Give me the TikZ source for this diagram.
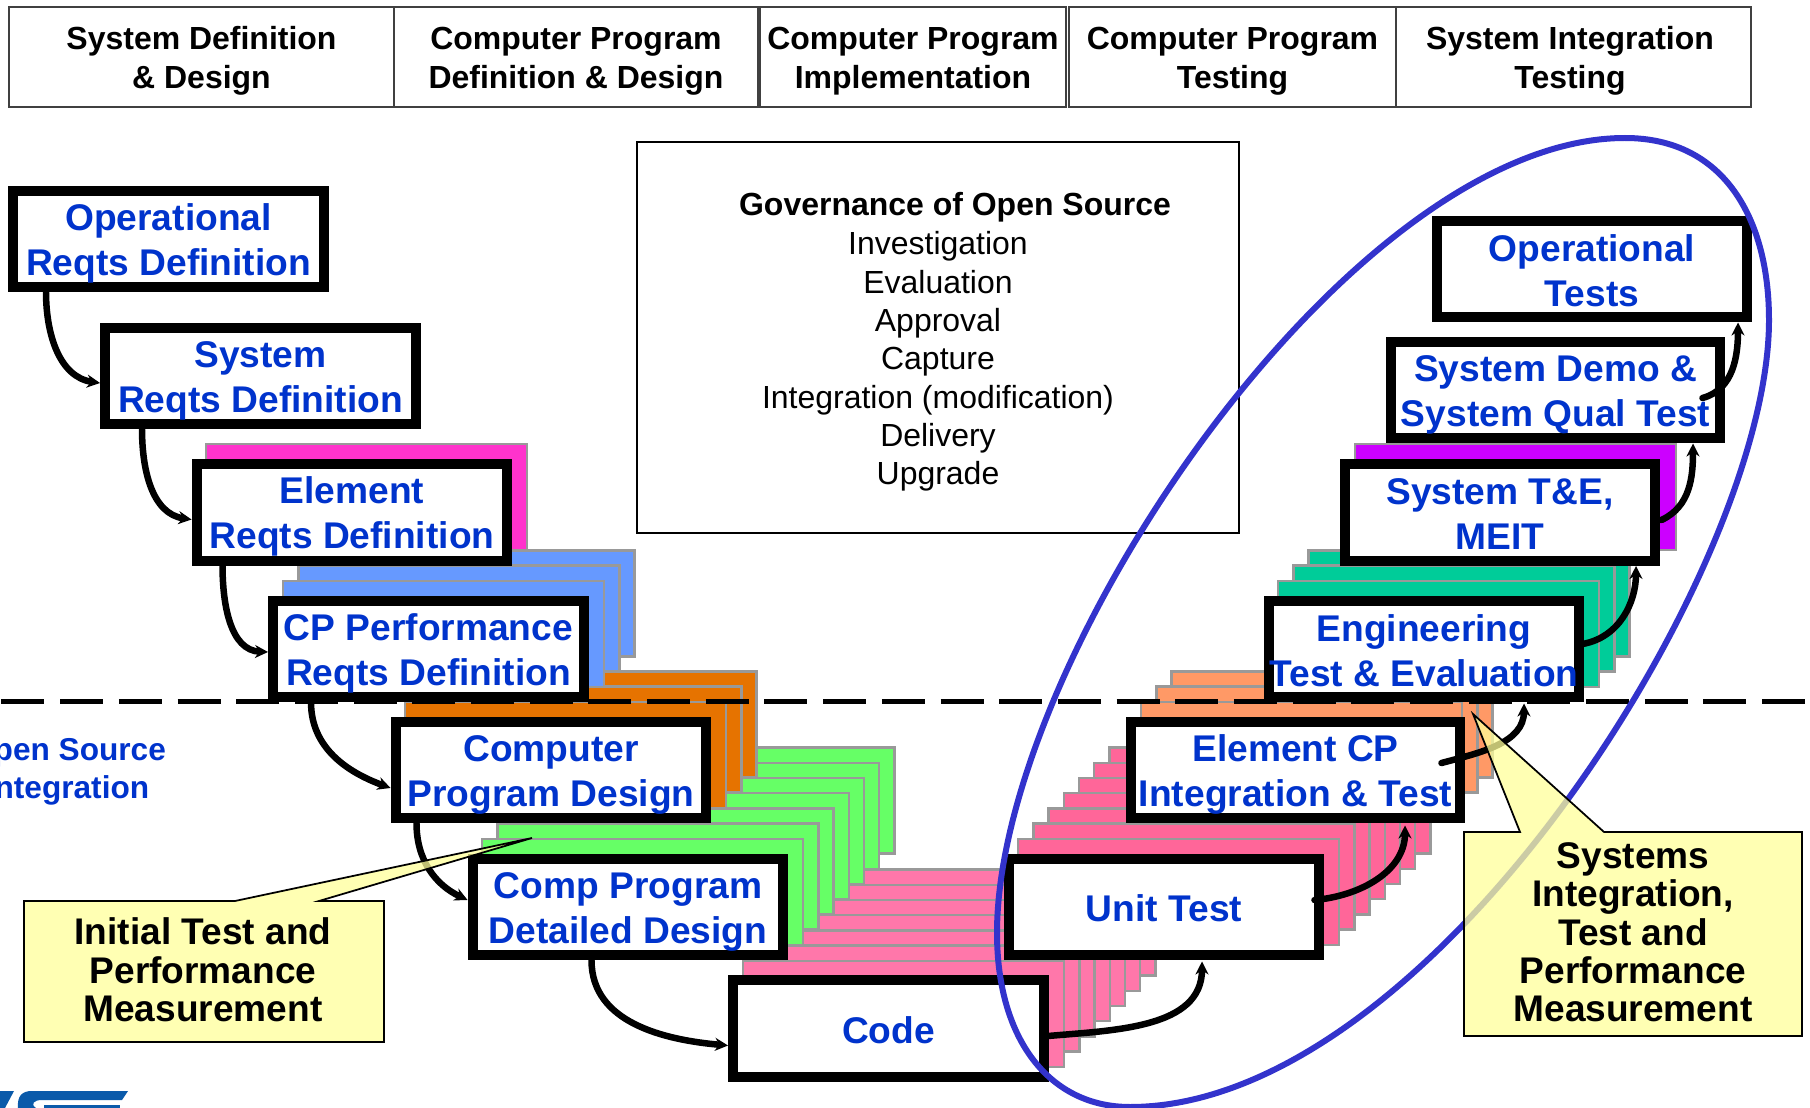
\documentclass[tikz,border=0pt]{standalone}
\usepackage{fontspec}
\setmainfont{Liberation Sans}
\usetikzlibrary{arrows.meta}
\definecolor{colRose}{RGB}{255,119,170}
\definecolor{colHot}{RGB}{255,102,153}
\definecolor{colGreen}{RGB}{102,255,102}
\definecolor{colOrange}{RGB}{230,115,0}
\definecolor{colBlue}{RGB}{102,153,255}
\definecolor{colPink}{RGB}{255,51,204}
\definecolor{colSalmon}{RGB}{255,153,102}
\definecolor{colTeal}{RGB}{0,204,153}
\definecolor{colPurple}{RGB}{204,0,255}
\definecolor{colText}{RGB}{0,51,204}
\definecolor{colRing}{RGB}{51,51,204}
\definecolor{colNote}{RGB}{255,255,153}
\definecolor{colLogo}{RGB}{10,90,170}
\newcommand{\hdrgap}{\rule{0pt}{17.3pt}}
\newcommand{\blkgap}{\rule{0pt}{20pt}}
\newcommand{\lowgap}{\rule{0pt}{17pt}}

\begin{document}
\begin{tikzpicture}[
		x=0.02cm,y=-0.02cm,
		hdr/.style={draw=black!75,line width=0.04cm,inner sep=0pt,minimum height=2.02cm,align=center,font=\fontsize{18.2}{22.2}\selectfont\bfseries},
		sheet/.style={draw=black!40,line width=0.045cm},
		blk/.style={draw,line width=0.2cm,fill=white,inner sep=0pt,minimum width=6.22cm,minimum height=1.94cm,align=center,text=colText,font=\fontsize{21.15}{25.6}\selectfont\bfseries},
		blkw/.style={blk,minimum width=6.6cm},
		flow/.style={line width=0.13cm,line cap=round,-{Stealth[length=0.26cm,width=0.26cm]}},
		note/.style={draw,line width=0.035cm,fill=colNote,fill opacity=0.75},
		notetxt/.style={align=center,inner sep=0pt,font=\fontsize{21.1}{21.8}\selectfont\bfseries},
		govtxt/.style={align=center,inner sep=0pt,font=\fontsize{18.2}{21.8}\selectfont}
	]
	\useasboundingbox (0,0) rectangle (1810,1108);

	%phase headings
		\foreach \n/\x/\w/\t in {h0/201.5/385/{\hdrgap System Definition\\\& Design}, h1/576/364/{\hdrgap Computer Program\\Definition \& Design}, h2/913/306/{\hdrgap Computer Program\\Implementation}, h3/1232.5/327/{\hdrgap Computer Program\\Testing}, h4/1573.5/355/{\hdrgap\hspace*{-0.14cm}System Integration\\\hspace*{-0.14cm}Testing}}
			\node[hdr,minimum width=\w*0.02cm] (\n) at (\x,57) {\t};

	%governance box
		\node[draw,line width=0.03cm,inner sep=0pt,minimum width=12.04cm,minimum height=7.82cm] (gov) at (938,337.5) {};
		\node[govtxt,font=\fontsize{18.2}{21.8}\selectfont\bfseries] (govhead) at (955,207.5) {Governance of Open Source};
		\node[govtxt] (govlist) at (938,361.5) {Investigation\\Evaluation\\Approval\\Capture\\Integration (modification)\\Delivery\\Upgrade};

	%stacked sheets
		\foreach \x/\y/\n/\c in {1003/854/7/colHot, 728/976/7/colRose, 1126/717/3/colSalmon, 1263/596/3/colTeal, 1340/459/1/colPurple, 467/854/7/colGreen, 390/717/3/colOrange, 268/596/3/colBlue, 191/459/1/colPink}
			\foreach \k in {\n,...,1}
				\draw[sheet,fill=\c] (\x+\k*15.2,\y-\k*15.2) rectangle ++(321,106);

	%boxes going down
		\node[blk] (oprd) at (168.5,239) {\blkgap Operational\\Reqts Definition};
		\node[blk] (sysrd) at (260.5,376) {\blkgap System\\Reqts Definition};
		\node[blk] (elrd) at (352,512.5) {\blkgap Element\\Reqts Definition};
		\node[blk] (cprd) at (428.5,649) {\blkgap CP Performance\\Reqts Definition};
		\node[blk] (cpd) at (551,770) {\blkgap Computer\\Program Design};
		\node[blk] (cdd) at (628,907) {\blkgap Comp Program\\Detailed Design};
		\node[blk] (code) at (888.5,1028.5) {\lowgap Code};
	%boxes going up
		\node[blk] (unit) at (1164,907) {\lowgap Unit Test};
		\node[blkw] (elcp) at (1295.5,770) {\blkgap Element CP\\Integration \& Test};
		\node[blk] (eng) at (1424,649) {\lowgap Engineering\\Test \& Evaluation};
		\node[blk] (meit) at (1500,512.5) {\lowgap System T\&E,\\MEIT};
		\node[blkw] (demo) at (1555.5,390) {\blkgap System Demo \&\\System Qual Test};
		\node[blk] (optest) at (1592,269) {\lowgap Operational\\Tests};

	%arrows
		\foreach \a/\b/\d/\e/\i in {oprd/sysrd/38/7/172, sysrd/elrd/42/7/172, elrd/cprd/31/3/178, cprd/cpd/43/18/160, cpd/cdd/26/-7/155, cdd/code/124/17/175}
			\draw[flow] ([shift={(\d,0)}]\a.south west) to[out=-90,in=\i] ([shift={(0,\e)}]\b.west);
		\foreach \a/\b/\p/\q/\r/\s/\o in {code/unit/-1/7.5/38/1/5, unit/elcp/-10/-7/109.5/2/5, elcp/eng/-24/-7/100/1/15, eng/meit/-2/-5/136/0/10, meit/demo/1/7.5/137.5/0/25, demo/optest/-23/8/146/0/15}
			\draw[flow] ([shift={(\p,\q)}]\a.east) to[out=\o,in=-90] ([shift={(\r,\s)}]\b.south);

	%dashed border
		\coordinate (dl) at (1.5,701);
		\coordinate (dr) at (1805,701);
		\draw[line width=0.1cm,dash pattern=on 0.86cm off 0.314cm] (dl) -- (dr);
		\node[inner sep=0pt,align=center,text=colText,font=\fontsize{18}{21.8}\selectfont\bfseries] (ossi) at (67.5,772) {Open Source\\Integration};

	%ring round the test side
		\draw[colRing,line width=0.12cm] (997,933) .. controls (997,660) and (1350,138) .. (1625,138)
			.. controls (1725,138) and (1769,220) .. (1769,320)
			.. controls (1769,570) and (1430,1107) .. (1130,1107)
			.. controls (1050,1107) and (997,1040) .. (997,933) -- cycle;

	%callouts
		\draw[note] (24,901) -- (235,901) -- (532,838) -- (319,901) -- (384,901) -- (384,1042) -- (24,1042) -- cycle;
		\node[notetxt] (initnote) at (203,970) {Initial Test and\\Performance\\Measurement};
		\draw[note] (1464,832) -- (1520,832) -- (1473,714) -- (1604,832) -- (1802,832) -- (1802,1036) -- (1464,1036) -- cycle;
		\node[notetxt] (sysnote) at (1633,932.5) {Systems\\Integration,\\Test and\\Performance\\Measurement};

	%logo piece
		\fill[colLogo] (0,1091) -- (14,1091) -- (5,1108) -- (0,1108) -- cycle;
		\fill[colLogo] (18,1108) .. controls (17,1096) and (22,1091) .. (32,1091) -- (128,1091) -- (122,1100) -- (42,1100) .. controls (34,1100) and (30,1104) .. (36,1108) -- cycle;
		\fill[colLogo] (44,1105) -- (120,1105) -- (120,1108) -- (44,1108) -- cycle;
\end{tikzpicture}
\end{document}
